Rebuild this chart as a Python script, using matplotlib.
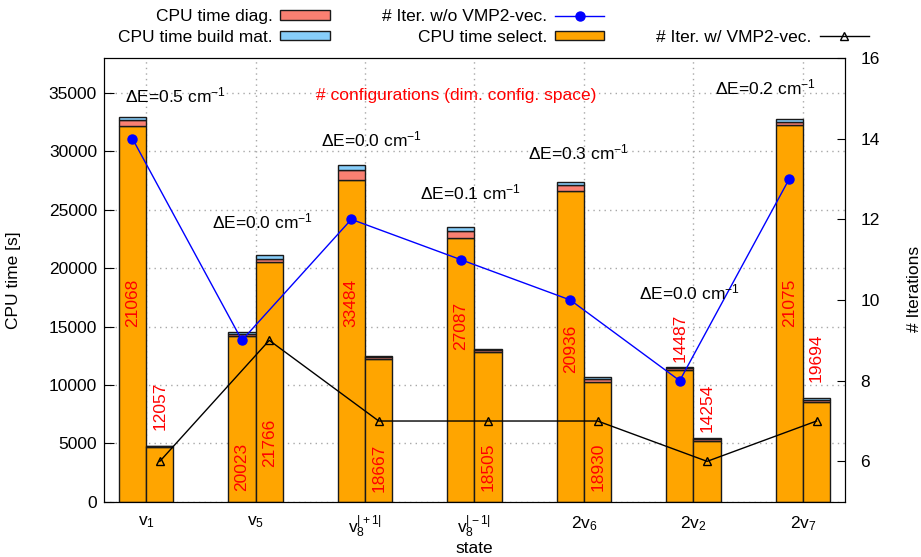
import numpy as np
import matplotlib
matplotlib.use('Agg')
import matplotlib.pyplot as plt
from matplotlib.lines import Line2D

plt.rcParams['font.family'] = ['Liberation Sans', 'DejaVu Sans']
plt.rcParams['font.size'] = 12.5
plt.rcParams['mathtext.fontset'] = 'custom'
plt.rcParams['mathtext.rm'] = 'Liberation Sans'
plt.rcParams['mathtext.it'] = 'Liberation Sans:italic'

# data
states = [r'$\mathregular{v_1}$', r'$\mathregular{v_5}$', r'$\mathregular{v_8^{|+1|}}$',
          r'$\mathregular{v_8^{|-1|}}$', r'$\mathregular{2v_6}$', r'$\mathregular{2v_2}$',
          r'$\mathregular{2v_7}$']
# w/o VMP2-vec. (left bars)
select_wo = [32180, 14150, 27580, 22580, 26570, 11290, 32270]
diag_wo = [540, 230, 850, 570, 570, 130, 230]
build_wo = [200, 140, 370, 340, 240, 100, 280]
# w/ VMP2-vec. (right bars)
select_w = [4650, 20570, 12200, 12810, 10290, 5240, 8580]
diag_w = [80, 250, 150, 150, 250, 130, 170]
build_w = [70, 270, 140, 150, 170, 110, 170]

iter_wo = [14, 9, 12, 11, 10, 8, 13]
iter_w = [6, 9, 7, 7, 7, 6, 7]

nconf_wo = [21068, 20023, 33484, 27087, 20936, 14487, 21075]
nconf_w = [12057, 21766, 18667, 18505, 18930, 14254, 19694]
# where the configuration labels start (CPU time scale)
nconf_wo_y = [15000, 900, 15000, 13000, 11000, 12000, 15000]
nconf_w_y = [6100, 3000, 850, 900, 900, 6000, 10250]

dE = ['0.5', '0.0', '0.0', '0.1', '0.3', '0.0', '0.2']
dE_x = [-0.19, 0.60, 1.60, 2.50, 3.49, 4.50, 5.20]
dE_y = [34780, 23975, 31000, 26450, 29900, 17880, 35450]

x = np.arange(len(states))
w = 0.25
ec = '#1a1a1a'

fig = plt.figure(figsize=(9.21, 5.57), dpi=100)
ax = fig.add_axes([0.1129, 0.0993, 0.8046, 0.7966])

b1 = ax.bar(x - w/2, select_wo, w, color='orange', edgecolor=ec, lw=1, label='CPU time select.')
b2 = ax.bar(x - w/2, diag_wo, w, bottom=select_wo, color='salmon', edgecolor=ec, lw=1,
            label='CPU time diag.')
b3 = ax.bar(x - w/2, build_wo, w, bottom=np.add(select_wo, diag_wo), color='lightskyblue',
            edgecolor=ec, lw=1, label='CPU time build mat.')
ax.bar(x + w/2, select_w, w, color='orange', edgecolor=ec, lw=1)
ax.bar(x + w/2, diag_w, w, bottom=select_w, color='salmon', edgecolor=ec, lw=1)
ax.bar(x + w/2, build_w, w, bottom=np.add(select_w, diag_w), color='lightskyblue',
       edgecolor=ec, lw=1)

ax.set_xlim(-0.385, 6.385)
ax.set_ylim(0, 38000)
ax.set_yticks(np.arange(0, 35001, 5000))
ax.set_xticks(x)
ax.set_xticklabels(states)
ax.tick_params(axis='y', direction='in', length=7, pad=5)
ax.tick_params(axis='x', length=0, pad=9)
ax.set_axisbelow(True)
ax.grid(True, color='#a8a8a8', linestyle=(0, (1, 3)), lw=1)
ax.set_ylabel('CPU time [s]')
ax.yaxis.set_label_coords(-0.112, 0.5)
ax.set_xlabel('state')
ax.xaxis.set_label_coords(0.5, -0.088)

ax2 = ax.twinx()
l1, = ax2.plot(x - w/2, iter_wo, color='blue', marker='o', ms=6.5, lw=1,
               label='# Iter. w/o VMP2-vec.')
l2, = ax2.plot(x + w/2, iter_w, color='black', marker='^', mfc='none', ms=6, lw=1,
               label='# Iter. w/ VMP2-vec.')
ax2.set_ylim(5, 16)
ax2.set_yticks(np.arange(6, 17, 2))
ax2.tick_params(axis='y', direction='in', length=6, pad=11)
ax2.set_ylabel('# Iterations')
ax2.yaxis.set_label_coords(1.083, 0.48)

for i in range(len(states)):
    ax2.text(x[i] - w/2, nconf_wo_y[i], str(nconf_wo[i]), transform=ax.transData,
             rotation=90, ha='center', va='bottom', color='red')
    ax2.text(x[i] + w/2, nconf_w_y[i], str(nconf_w[i]), transform=ax.transData,
             rotation=90, ha='center', va='bottom', color='red')
    ax2.text(dE_x[i], dE_y[i], 'ΔE=' + dE[i] + r' cm$\mathregular{^{-1}}$',
             transform=ax.transData, ha='left', va='center')

ax2.text(2.83, 34780, '# configurations (dim. config. space)', transform=ax.transData,
         ha='center', va='center', color='red')

blank = Line2D([], [], alpha=0)
fig.legend([b2, b3, l1, b1, blank, l2],
           ['CPU time diag.', 'CPU time build mat.', '# Iter. w/o VMP2-vec.',
            'CPU time select.', '', '# Iter. w/ VMP2-vec.'],
           ncol=3, markerfirst=False, frameon=False, loc='upper left',
           bbox_to_anchor=(0.128, 0.983), borderpad=0, borderaxespad=0,
           handlelength=2.85, handleheight=0.5, handletextpad=0.45,
           columnspacing=3.0, labelspacing=0.3)

fig.savefig('out.png', dpi=100)
